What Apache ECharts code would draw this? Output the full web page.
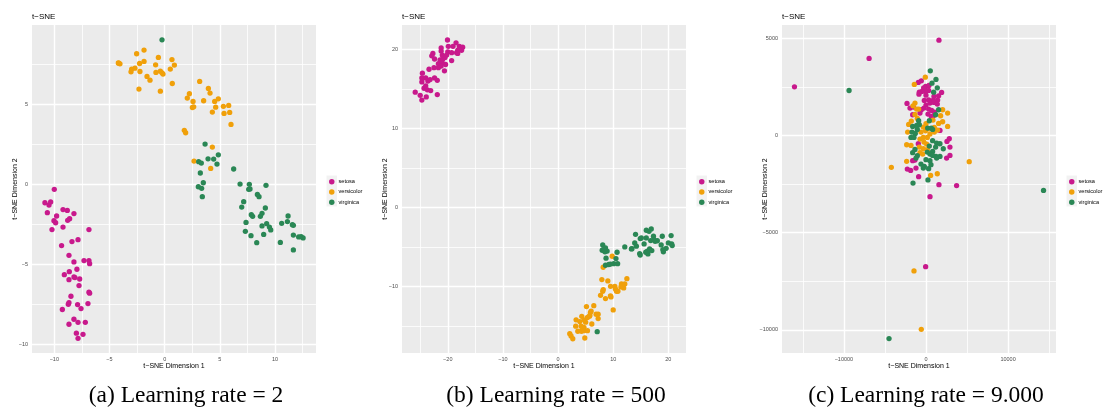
<!DOCTYPE html>
<html>
<head>
<meta charset="utf-8">
<script src="https://cdn.jsdelivr.net/npm/echarts@6/dist/echarts.min.js"></script>
<style>html,body{margin:0;padding:0;background:#fff}#c{width:1104px;height:409px}</style>
</head>
<body>
<div id="c"></div>
<script>
// ---------- DATA ----------
const speciesNames = ['setosa', 'versicolor', 'virginica'];
const captions = ['(a) Learning rate = 2', '(b) Learning rate = 500', '(c) Learning rate = 9.000'];
const plotTitle = 't\u2212SNE';
const xTitle = 't\u2212SNE Dimension 1';
const yTitle = 't\u2212SNE Dimension 2';

// panel (a) ticks
const aXMajor = [-10, -5, 0, 5, 10];
const aXMinor = [-7.5, -2.5, 2.5, 7.5, 12.5];
const aYMajor = [-10, -5, 0, 5];
const aYMinor = [-7.5, -2.5, 2.5, 7.5];
// panel (b) ticks
const bXMajor = [-20, -10, 0, 10, 20];
const bXMinor = [-25, -15, -5, 5, 15];
const bYMajor = [-10, 0, 10, 20];
const bYMinor = [-15, -5, 5, 15];
// panel (c) ticks
const cXMajor = [-10000, 0, 10000];
const cXMinor = [-15000, -5000, 5000, 15000];
const cYMajor = [-10000, -5000, 0, 5000];
const cYMinor = [-7500, -2500, 2500];

// panel (a) learning rate = 2
const aSetosa = [[-10.0,-0.31],[-10.85,-1.15],[-10.48,-1.29],[-10.33,-1.1],[-10.63,-1.77],[-9.21,-1.58],[-8.82,-1.63],[-9.79,-1.98],[-8.22,-1.83],[-10.03,-2.27],[-9.88,-2.4],[-8.61,-2.15],[-8.79,-2.25],[-9.21,-2.67],[-10.21,-2.83],[-6.86,-2.83],[-7.85,-3.46],[-8.4,-3.58],[-9.34,-3.83],[-8.67,-4.44],[-8.22,-4.85],[-7.31,-4.77],[-6.86,-4.77],[-6.8,-4.96],[-7.95,-5.31],[-8.64,-5.46],[-9.09,-5.65],[-8.22,-5.79],[-8.13,-5.83],[-8.67,-5.96],[-7.7,-5.92],[-7.76,-6.33],[-6.86,-6.75],[-6.8,-6.81],[-8.49,-7.0],[-8.67,-7.4],[-8.73,-7.5],[-7.89,-7.52],[-6.95,-7.46],[-9.27,-7.83],[-7.58,-7.77],[-8.22,-8.44],[-7.85,-8.63],[-7.19,-8.63],[-8.67,-8.75],[-8.0,-9.31],[-7.4,-9.38],[-7.85,-9.63]];
const aVersicolor = [[-4.2,7.6],[-4.05,7.54],[-4.15,7.58],[-2.54,8.17],[-1.87,8.4],[-2.27,7.56],[-1.87,7.69],[-0.57,7.94],[0.66,7.81],[-0.82,7.48],[-2.99,7.21],[-2.69,7.27],[-3.05,7.04],[-2.24,7.06],[-0.79,7.0],[-0.39,7.08],[-0.24,6.98],[-0.15,6.9],[0.51,7.21],[0.88,7.46],[-1.6,6.75],[-1.33,6.52],[0.69,6.31],[-2.33,5.96],[-0.39,5.83],[3.17,6.44],[3.96,6.0],[4.11,5.71],[2.24,5.67],[2.05,5.4],[2.57,5.19],[3.53,5.23],[4.53,5.19],[4.86,5.35],[2.51,4.81],[2.63,4.85],[4.62,4.83],[5.32,4.88],[5.8,4.94],[4.32,4.52],[5.38,4.44],[5.89,4.5],[6.01,3.75],[1.78,3.38],[1.9,3.23],[4.32,2.33],[4.17,1.0],[2.66,1.46]];
const aVirginica = [[-0.24,9.04],[3.66,2.52],[3.08,1.42],[3.32,1.33],[3.93,1.6],[4.44,1.58],[4.86,1.85],[4.74,1.27],[6.25,0.96],[3.23,0.71],[3.5,0.1],[6.83,0.02],[7.67,0.0],[9.18,-0.06],[3.05,-0.15],[3.35,-0.25],[3.41,-0.77],[7.61,-0.31],[7.73,-0.29],[8.4,-0.63],[8.55,-0.77],[7.16,-1.08],[6.98,-1.42],[9.12,-1.48],[7.85,-1.9],[7.97,-2.0],[8.82,-1.81],[8.67,-2.0],[11.18,-1.98],[7.37,-2.38],[9.24,-2.46],[8.82,-2.6],[9.49,-2.67],[9.61,-2.85],[10.6,-2.44],[11.12,-2.33],[11.57,-2.52],[11.66,-2.56],[7.31,-2.94],[7.82,-3.21],[8.97,-3.13],[11.66,-3.17],[12.14,-3.29],[12.36,-3.27],[12.54,-3.35],[8.34,-3.65],[10.48,-3.63],[11.66,-4.1]];

// panel (b) learning rate = 500
const bSetosa = [[-20.05,21.2],[-18.5,20.85],[-21.2,20.2],[-21.2,19.8],[-19.9,20.4],[-19.05,20.4],[-17.9,20.4],[-17.3,20.3],[-17.5,19.9],[-18.2,19.9],[-20.0,19.7],[-19.3,19.6],[-18.4,19.6],[-18.2,19.5],[-22.7,19.5],[-22.9,19.2],[-21.0,19.3],[-20.2,19.3],[-22.4,18.8],[-19.3,18.6],[-21.4,18.7],[-20.9,18.8],[-21.0,18.3],[-21.7,18.2],[-20.4,18.1],[-21.2,17.9],[-22.5,17.7],[-23.4,17.5],[-21.7,17.7],[-20.6,17.3],[-24.6,17.0],[-24.7,16.4],[-24.0,16.4],[-23.6,16.0],[-24.7,15.9],[-22.4,16.4],[-21.9,16.1],[-24.3,15.1],[-23.7,14.9],[-23.1,14.8],[-25.9,14.6],[-25.0,14.2],[-23.9,14.0],[-21.9,14.3],[-24.7,13.6],[-20.5,19.0],[-18.0,20.0],[-23.2,16.2],[-24.0,15.4]];
const bVersicolor = [[9.82,-6.16],[8.18,-7.55],[7.94,-9.11],[9.03,-9.28],[12.48,-8.99],[9.52,-9.96],[10.3,-9.96],[11.5,-9.66],[12.1,-9.66],[11.4,-10.04],[11.9,-10.17],[10.6,-10.59],[10.85,-10.59],[8.1,-10.59],[8.2,-10.38],[7.7,-11.1],[9.5,-11.18],[8.6,-11.52],[10.0,-12.95],[5.15,-12.53],[6.48,-12.41],[5.88,-13.25],[5.7,-13.76],[4.3,-13.76],[6.9,-13.5],[7.27,-13.5],[7.27,-14.05],[5.33,-13.9],[4.7,-14.2],[3.27,-14.2],[6.12,-14.73],[3.2,-15.0],[4.18,-15.0],[4.7,-15.15],[3.58,-15.65],[4.24,-15.65],[4.7,-15.57],[5.33,-15.57],[2.12,-15.95],[2.36,-16.24],[2.67,-16.6],[4.85,-16.5],[5.76,-13.63],[3.94,-14.43],[5.0,-14.5],[6.0,-13.1],[10.4,-10.3],[11.6,-9.9],[9.6,-11.3],[4.5,-15.3]];
const bVirginica = [[14.05,-3.38],[16.0,-2.87],[16.5,-3.0],[16.9,-2.7],[14.9,-3.92],[16.0,-3.84],[17.3,-3.63],[16.8,-4.18],[17.6,-4.26],[18.9,-3.63],[20.5,-3.54],[13.9,-4.47],[15.6,-4.6],[14.2,-4.89],[13.3,-5.23],[12.1,-4.98],[18.7,-4.72],[20.0,-4.47],[20.7,-4.81],[19.6,-5.15],[19.0,-5.32],[19.1,-5.6],[16.6,-5.23],[17.0,-5.44],[15.9,-5.65],[14.8,-5.82],[14.9,-6.0],[16.3,-5.86],[8.1,-4.72],[8.6,-5.1],[8.0,-5.4],[8.9,-5.5],[8.5,-5.6],[10.7,-5.65],[8.7,-6.4],[10.5,-6.45],[8.6,-7.3],[9.2,-7.2],[10.1,-7.1],[10.8,-7.1],[7.1,-15.7],[15.1,-3.84],[18.0,-4.2],[17.4,-4.05],[20.6,-4.6],[16.2,-5.5],[13.4,-5.2],[9.5,-7.15],[8.3,-5.3]];

// panel (c) learning rate = 9.000
const cSetosa = [[1580,4900],[-6930,3960],[-16020,2500],[1580,-2530],[3730,-2580],[490,-3150],[-40,-6750],[-568,2810],[-933,2724],[-41,2518],[365,2570],[-284,2450],[325,2313],[0,2262],[-487,2262],[-811,2227],[-852,2124],[0,2073],[974,2005],[1907,2210],[1542,2039],[-203,1799],[325,1834],[852,1799],[1420,1817],[-2312,1645],[-1947,1405],[-1542,1457],[0,1560],[487,1663],[974,1697],[1379,1611],[-243,1405],[325,1354],[690,1286],[1055,1200],[243,1097],[649,977],[-568,1320],[-730,1149],[-1623,1063],[893,1011],[1704,259],[2840,-170],[2556,-307],[2921,-598],[2921,-1026],[2515,-1163],[-933,-427],[-1339,-1266],[-1623,-1300],[-2272,-1730],[-1866,-1799],[-1217,-1677],[-893,-2123]];
const cVersicolor = [[-4220,-1640],[5270,-1350],[-1460,-6970],[-570,-9970],[-81,2998],[-1420,2622],[-1339,1662],[-1582,1525],[-1136,1354],[-893,1354],[2028,1320],[2637,1149],[1785,1012],[-1339,1080],[-1055,875],[-1785,738],[2028,704],[1542,618],[852,789],[0,600],[-2110,567],[1014,412],[-325,430],[2637,464],[365,344],[1420,276],[-2231,173],[-609,173],[-41,242],[487,70],[1014,173],[-325,-101],[162,-101],[-730,-187],[-243,-341],[81,-444],[-811,-598],[-325,-684],[162,-735],[-2353,-478],[-1826,-512],[-730,-889],[-406,-957],[-2353,-1334],[568,-2055],[1379,-1970]];
const cVirginica = [[-9370,2310],[14320,-2830],[-1580,-2450],[240,-2290],[-4500,-10450],[527,3325],[1217,2880],[730,2690],[1379,2450],[933,2227],[1542,1320],[1177,1063],[-893,755],[406,755],[-811,550],[-1623,464],[-1136,515],[203,378],[649,378],[-1055,310],[-1704,173],[-1298,104],[-1826,-101],[-1461,-101],[811,310],[811,-272],[1298,-392],[1704,-427],[406,-546],[1177,-598],[2110,-684],[811,-821],[162,-855],[487,-957],[811,-1026],[1217,-1078],[1704,-1078],[-1055,-1043],[-1339,-718],[-1623,-889],[0,-1249],[487,-1300],[1298,-1163],[-609,-1471],[-203,-1591],[325,-1711],[-325,-1677],[609,-1505],[-1217,-1163]];

// ---------- LAYOUT / STYLE ----------
const colors = ['#C8198C', '#F0A00A', '#2A8755'];
const FONT = 'Liberation Sans';
const panels = [
  {left: 32, width: 284, xr: [-12.02, 13.71], yr: [-10.55, 9.97], xM: aXMajor, xm: aXMinor, yM: aYMajor, ym: aYMinor, series: [aSetosa, aVersicolor, aVirginica]},
  {left: 402, width: 284, xr: [-28.3, 23.2], yr: [-18.4, 23.1], xM: bXMajor, xm: bXMinor, yM: bYMajor, ym: bYMinor, series: [bSetosa, bVersicolor, bVirginica]},
  {left: 782, width: 274, xr: [-17540, 15840], yr: [-11190, 5680], xM: cXMajor, xm: cXMinor, yM: cYMajor, ym: cYMinor, series: [cSetosa, cVersicolor, cVirginica]}
];
const TOP = 25, HEIGHT = 328;
const captionX = [186, 556, 926];

const fmt = v => (v < 0 ? '\u2212' + Math.abs(v) : String(v));

const grids = [], xAxes = [], yAxes = [], series = [], legends = [], graphics = [];
panels.forEach((p, i) => {
  grids.push({left: p.left, top: TOP, width: p.width, height: HEIGHT, show: true, backgroundColor: '#EBEBEB', borderWidth: 0, containLabel: false});
  const axisCommon = {
    type: 'value', gridIndex: i, scale: true,
    axisLine: {show: false}, splitLine: {show: false},
    axisTick: {show: true, length: 2, lineStyle: {color: '#333', width: 0.7}},
    axisLabel: {fontSize: 5.5, color: '#4D4D4D', fontFamily: FONT, formatter: fmt, showMinLabel: true, showMaxLabel: true}
  };
  xAxes.push(Object.assign({}, axisCommon, {min: p.xr[0], max: p.xr[1],
    axisTick: Object.assign({}, axisCommon.axisTick, {customValues: p.xM}),
    axisLabel: Object.assign({}, axisCommon.axisLabel, {customValues: p.xM, margin: 3})}));
  yAxes.push(Object.assign({}, axisCommon, {min: p.yr[0], max: p.yr[1],
    axisTick: Object.assign({}, axisCommon.axisTick, {customValues: p.yM}),
    axisLabel: Object.assign({}, axisCommon.axisLabel, {customValues: p.yM, margin: 4})}));
  const lines = [];
  p.xM.forEach(v => lines.push({xAxis: v, lineStyle: {width: 1.4}}));
  p.xm.forEach(v => lines.push({xAxis: v, lineStyle: {width: 0.8}}));
  p.yM.forEach(v => lines.push({yAxis: v, lineStyle: {width: 1.4}}));
  p.ym.forEach(v => lines.push({yAxis: v, lineStyle: {width: 0.8}}));
  series.push({type: 'scatter', name: '_grid' + i, xAxisIndex: i, yAxisIndex: i, data: [], z: 1, silent: true,
    markLine: {z: 1, silent: true, symbol: ['none', 'none'], label: {show: false}, animation: false,
      lineStyle: {color: '#FFFFFF', type: 'solid'}, emphasis: {disabled: true}, data: lines}});
  p.series.forEach((d, k) => {
    series.push({type: 'scatter', name: speciesNames[k], xAxisIndex: i, yAxisIndex: i, data: d, z: 3,
      symbol: 'circle', symbolSize: 5.3, itemStyle: {color: colors[k], opacity: 1}});
  });
  const gx = p.left, gr = p.left + p.width, gc = p.left + p.width / 2;
  legends.push({data: speciesNames, orient: 'vertical', left: gr + 13, top: 176.5, itemWidth: 5.5, itemHeight: 5.5,
    itemGap: 0, icon: 'circle', selectedMode: false, padding: 0,
    textStyle: {fontSize: 5.6, color: '#000', fontFamily: FONT, lineHeight: 10.3, padding: [0, 0, 0, -1]}});
  graphics.push({type: 'rect', shape: {x: gr + 10.5, y: 175.5, width: 10.5, height: 31}, style: {fill: '#F2F2F2'}, z: -1});
  graphics.push({type: 'text', x: gx, y: 17, style: {text: plotTitle, font: '8px ' + FONT, fill: '#000', align: 'left', verticalAlign: 'middle'}});
  graphics.push({type: 'text', x: gc, y: 366.5, style: {text: xTitle, font: '7px ' + FONT, fill: '#000', align: 'center', verticalAlign: 'middle'}});
  graphics.push({type: 'text', x: p.left - 17, y: TOP + HEIGHT / 2, rotation: Math.PI / 2,
    style: {text: yTitle, font: '7px ' + FONT, fill: '#000', align: 'center', verticalAlign: 'middle'}});
  graphics.push({type: 'text', x: captionX[i], y: 396, style: {text: captions[i], font: '23.5px Liberation Serif', fill: '#000', align: 'center', verticalAlign: 'middle'}});
});

const chart = echarts.init(document.getElementById('c'), null, {renderer: 'canvas'});
chart.setOption({
  animation: false,
  backgroundColor: '#FFFFFF',
  grid: grids, xAxis: xAxes, yAxis: yAxes, series: series, legend: legends,
  graphic: {elements: graphics}
});
</script>
</body>
</html>
